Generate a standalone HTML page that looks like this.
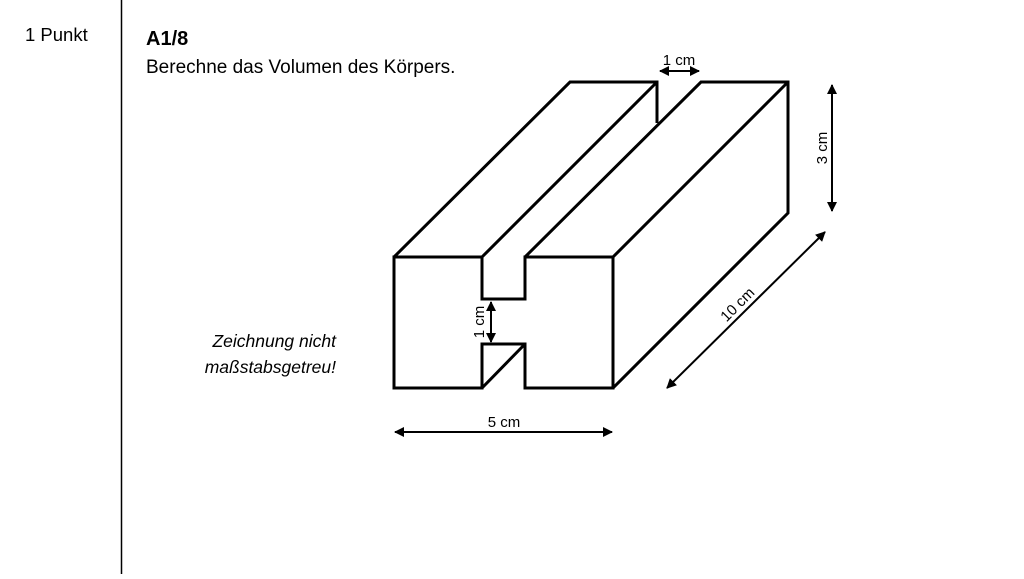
<!DOCTYPE html>
<html><head><meta charset="utf-8"><style>
body{margin:0;width:1024px;height:574px;background:#fff;overflow:hidden;font-family:"Liberation Sans",sans-serif;}
</style></head><body>
<svg width="1024" height="574" xmlns="http://www.w3.org/2000/svg" font-family="Liberation Sans, sans-serif">
<defs>
<marker id="a" viewBox="0 0 10 10" refX="9" refY="5" markerWidth="5" markerHeight="5" orient="auto-start-reverse"><path d="M0,0 L10,5 L0,10 z" fill="#000"/></marker>
</defs>
<line x1="121.5" y1="0" x2="121.5" y2="574" stroke="#000" stroke-width="1.5"/>
<text x="25" y="41" font-size="18.5">1 Punkt</text>
<text x="146" y="45" font-size="20" font-weight="bold">A1/8</text>
<text x="146" y="73" font-size="19">Berechne das Volumen des Körpers.</text>
<g fill="none" stroke="#000" stroke-width="3" stroke-linejoin="miter">
<path d="M394,257 H482 V299 H525 V257 H613 V388 H525 V344 H482 V388 H394 Z"/>
<path d="M394,257 L570,82 H657 V123"/>
<path d="M482,257 L657,82"/>
<path d="M525,257 L701,82 H788 V213 L613,388"/>
<path d="M613,257 L788,82"/>
<path d="M482,388 L525,344"/>
</g>
<g stroke="#000" stroke-width="2" fill="none">
<line x1="660" y1="71" x2="699" y2="71" marker-start="url(#a)" marker-end="url(#a)"/>
<line x1="832" y1="85" x2="832" y2="211" marker-start="url(#a)" marker-end="url(#a)"/>
<line x1="667" y1="388" x2="825" y2="232" marker-start="url(#a)" marker-end="url(#a)"/>
<line x1="395" y1="432" x2="612" y2="432" marker-start="url(#a)" marker-end="url(#a)"/>
<line x1="491" y1="302" x2="491" y2="342" marker-start="url(#a)" marker-end="url(#a)"/>
</g>
<g font-size="15">
<text x="679" y="65" text-anchor="middle">1 cm</text>
<text x="504" y="427" text-anchor="middle">5 cm</text>
<text transform="translate(827,148) rotate(-90)" text-anchor="middle">3 cm</text>
<text transform="translate(741,308) rotate(-45)" text-anchor="middle">10 cm</text>
<text transform="translate(484,322) rotate(-90)" text-anchor="middle">1 cm</text>
</g>
<g font-size="17.5" font-style="italic" text-anchor="end">
<text x="336" y="347">Zeichnung nicht</text>
<text x="336" y="373">maßstabsgetreu!</text>
</g>
</svg>
</body></html>
